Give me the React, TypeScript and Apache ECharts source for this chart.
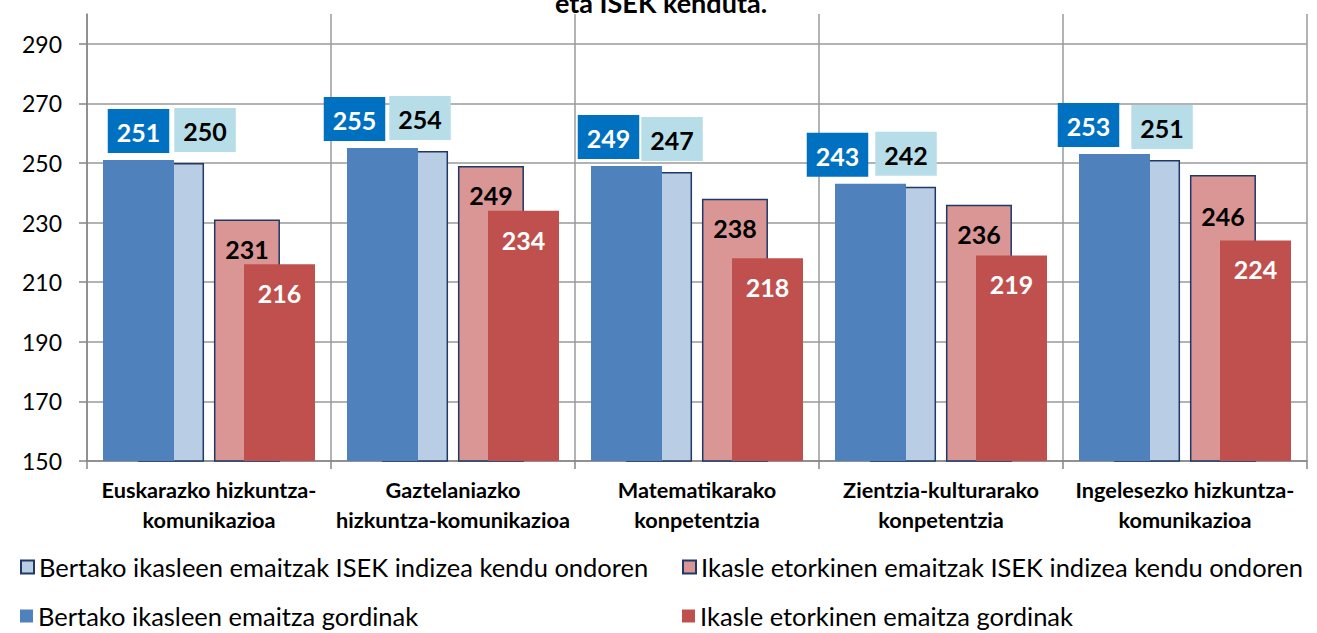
import React, { useEffect, useRef } from "react";
import * as echarts from "echarts";

const categories = [
  "Euskarazko hizkuntza-\nkomunikazioa",
  "Gaztelaniazko\nhizkuntza-komunikazioa",
  "Matematikarako\nkonpetentzia",
  "Zientzia-kulturarako\nkonpetentzia",
  "Ingelesezko hizkuntza-\nkomunikazioa",
];

const seriesNames = [
  "Bertako ikasleen emaitzak ISEK indizea kendu ondoren",
  "Bertako ikasleen emaitza gordinak",
  "Ikasle etorkinen emaitzak ISEK indizea kendu ondoren",
  "Ikasle etorkinen emaitza gordinak",
];

const bertakoIsekGabe = [250, 254, 247, 242, 251];
const bertakoGordinak = [251, 255, 249, 243, 253];
const etorkinIsekGabe = [231, 249, 238, 236, 246];
const etorkinGordinak = [216, 234, 218, 219, 224];

const yMin = 150;
const yMax = 300;
const yStep = 20;

const titleText = "eta ISEK kenduta.";

// label nudges (pixels) that mimic the hand-placed labels of the original
const darkBlueLabelShift = [0, -28, -18, -33, -26];
const lightBlueLabelShift = [34, 5, 13, 3, 15];
const lightRedLabelDrop = [0, 0, 0, 0, 12];

const FONT = "Lato, 'Noto Sans', sans-serif";
const GRID_COLOR = "#9a9a9a";
const BORDER_NAVY = "#1F3864";

export default function App() {
  const ref = useRef<HTMLDivElement>(null);

  useEffect(() => {
    if (!ref.current) return;
    const chart = echarts.init(ref.current, null, { renderer: "svg" });

    const boxLabel = (bg: string, fg: string) => ({
      show: true,
      position: "top",
      color: fg,
      backgroundColor: bg,
      fontFamily: FONT,
      fontSize: 25,
      fontWeight: "bold",
      lineHeight: 26,
      padding: [10, 9, 8, 9],
    });

    const legendItem = (name: string, left: number, top: number) => ({
      data: [name],
      orient: "horizontal",
      left,
      top,
      padding: 0,
      itemWidth: 13,
      itemHeight: 13,
      icon: "rect",
      textStyle: { fontFamily: FONT, fontSize: 25.5, lineHeight: 26, color: "#000" },
    });

    const option: any = {
      animation: false,
      backgroundColor: "#ffffff",
      textStyle: { fontFamily: FONT },
      graphic: [
        {
          type: "text",
          x: 661,
          y: -11,
          style: {
            text: titleText,
            textAlign: "center",
            textVerticalAlign: "top",
            fontFamily: FONT,
            fontSize: 27,
            fontWeight: "bold",
            fill: "#000",
          },
          z: 10,
        },
      ],
      grid: { left: 87, right: 10, top: 14, bottom: 172, containLabel: false },
      legend: [
        legendItem(seriesNames[0], 20, 554),
        legendItem(seriesNames[1], 20, 603),
        legendItem(seriesNames[2], 682, 554),
        legendItem(seriesNames[3], 682, 603),
      ],
      xAxis: [
        {
          type: "category",
          data: categories,
          position: "bottom",
          axisLine: { show: true, lineStyle: { color: "#868686", width: 1.5 } },
          axisTick: { show: true, length: 8, lineStyle: { color: "#868686", width: 1.5 } },
          splitLine: { show: true, lineStyle: { color: GRID_COLOR, width: 1.5 } },
          axisLabel: {
            interval: 0,
            color: "#000",
            fontFamily: FONT,
            fontSize: 21.7,
            fontWeight: "bold",
            lineHeight: 30,
            margin: 14,
          },
        },
        {
          type: "category",
          data: categories,
          position: "bottom",
          show: false,
        },
      ],
      yAxis: {
        type: "value",
        min: yMin,
        max: yMax,
        interval: yStep,
        axisLine: { show: true, lineStyle: { color: "#868686", width: 1.5 } },
        axisTick: { show: true, length: 8, lineStyle: { color: "#868686", width: 1.5 } },
        splitLine: {
          show: true,
          lineStyle: {
            color: [
              GRID_COLOR, GRID_COLOR, GRID_COLOR, GRID_COLOR, GRID_COLOR,
              GRID_COLOR, GRID_COLOR, GRID_COLOR, "rgba(0,0,0,0)",
            ],
            width: 1.5,
          },
        },
        axisLabel: {
          color: "#000",
          fontFamily: FONT,
          fontSize: 23,
          margin: 25,
          showMaxLabel: false,
        },
      },
      series: [
        {
          name: seriesNames[1],
          type: "bar",
          xAxisIndex: 0,
          barWidth: 71,
          barGap: "98.6%",
          z: 4,
          itemStyle: { color: "#4F81BD" },
          label: { ...boxLabel("#0070C0", "#ffffff"), distance: 7 },
          data: bertakoGordinak.map((v, i) => ({
            value: v,
            label: { offset: [darkBlueLabelShift[i], 0] },
          })),
        },
        {
          name: seriesNames[3],
          type: "bar",
          xAxisIndex: 0,
          barWidth: 71,
          barGap: "98.6%",
          z: 4,
          itemStyle: { color: "#C0504D" },
          label: {
            show: true,
            position: "insideTop",
            distance: 16,
            color: "#ffffff",
            fontFamily: FONT,
            fontSize: 25,
            fontWeight: "bold",
            lineHeight: 26,
          },
          data: etorkinGordinak,
        },
        {
          name: seriesNames[0],
          type: "bar",
          xAxisIndex: 1,
          barWidth: 66,
          barGap: "15%",
          z: 2,
          itemStyle: { color: "#B9CDE5", borderColor: BORDER_NAVY, borderWidth: 1.5 },
          label: { ...boxLabel("#B7DEE8", "#000000"), distance: 11 },
          data: bertakoIsekGabe.map((v, i) => ({
            value: v,
            label: { offset: [lightBlueLabelShift[i], 0] },
          })),
        },
        {
          name: seriesNames[2],
          type: "bar",
          xAxisIndex: 1,
          barWidth: 66,
          barGap: "15%",
          z: 2,
          itemStyle: { color: "#D99694", borderColor: BORDER_NAVY, borderWidth: 1.5 },
          label: {
            show: true,
            position: "insideTop",
            distance: 16,
            color: "#000000",
            fontFamily: FONT,
            fontSize: 25,
            fontWeight: "bold",
            lineHeight: 26,
          },
          data: etorkinIsekGabe.map((v, i) => ({
            value: v,
            label: { offset: [0, lightRedLabelDrop[i]] },
          })),
        },
      ],
    };

    chart.setOption(option);
    return () => chart.dispose();
  }, []);

  return (
    <div
      ref={ref}
      style={{ position: "absolute", left: 0, top: 0, width: 1317, height: 633 }}
    />
  );
}
